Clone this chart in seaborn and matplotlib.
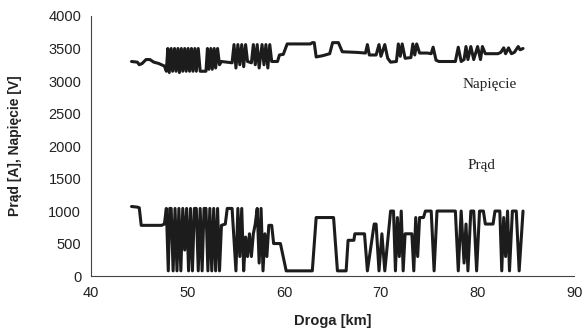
import matplotlib
matplotlib.use("Agg")
import matplotlib.pyplot as plt
import seaborn as sns

# Napięcie (voltage) trace
volt_km = [44.2, 44.8, 45.0, 45.3, 45.7, 46.1, 46.5, 47.0, 47.6,
           47.8, 47.95, 48.1, 48.3, 48.45, 48.65, 48.8, 49.0, 49.15, 49.35, 49.5, 49.7,
           49.85, 50.05, 50.2, 50.4, 50.55, 50.75, 50.9, 51.1, 51.3, 51.9, 52.05, 52.2,
           52.4, 52.55, 52.75, 52.9, 53.1, 53.3, 53.5, 54.6, 54.8, 55.0, 55.2, 55.4,
           55.6, 55.8, 56.0, 56.2, 56.6, 56.8, 57.0, 57.2, 57.4, 57.7, 57.9, 58.1, 58.3,
           58.5, 58.7, 59.3, 59.5, 59.9, 60.3, 62.7, 62.9, 63.1, 63.3, 64.0, 64.7, 65.0,
           65.6, 66.0, 67.5, 68.4, 68.6, 68.8, 69.5, 69.8, 70.0, 70.4, 70.7, 71.0, 71.6,
           71.8, 72.0, 72.2, 72.5, 73.1, 73.3, 73.5, 73.7, 74.0, 74.8, 75.2, 75.4, 75.7,
           76.0, 77.7, 78.0, 78.3, 78.6, 78.8, 79.0, 79.3, 79.6, 80.0, 80.3, 80.5, 80.8,
           82.1, 82.4, 82.7, 82.9, 83.2, 83.5, 83.8, 84.2, 84.4, 84.7]
volt_v = [3300, 3290, 3250, 3270, 3330, 3330, 3290, 3270, 3230,
          3150, 3500, 3130, 3500, 3150, 3500, 3150, 3500, 3130, 3500, 3150, 3500,
          3150, 3500, 3150, 3500, 3150, 3500, 3150, 3500, 3150, 3150, 3500, 3180,
          3500, 3180, 3500, 3200, 3500, 3250, 3300, 3280, 3560, 3200, 3560, 3250,
          3560, 3220, 3560, 3300, 3280, 3560, 3250, 3560, 3200, 3560, 3250, 3560, 3200,
          3560, 3300, 3300, 3400, 3410, 3570, 3570, 3590, 3590, 3370, 3390, 3420, 3590,
          3590, 3450, 3440, 3430, 3560, 3400, 3400, 3560, 3380, 3560, 3350, 3290, 3300,
          3570, 3380, 3570, 3350, 3360, 3570, 3400, 3570, 3430, 3430, 3420, 3520, 3320,
          3300, 3300, 3520, 3300, 3330, 3530, 3330, 3530, 3330, 3530, 3330, 3530, 3420,
          3420, 3440, 3510, 3420, 3510, 3420, 3440, 3530, 3480, 3500]

# Prąd (current) trace
curr_km = [44.2, 44.8, 45.0, 45.2, 47.3, 47.6,
           47.8, 48.0, 48.15, 48.3, 48.5, 48.7, 48.9, 49.1, 49.3, 49.5, 49.7, 49.9,
           50.1, 50.3, 50.5, 50.7, 50.9, 51.1, 51.3, 51.5, 51.7, 51.9, 52.1, 52.3,
           52.5, 52.7, 52.9, 53.1, 53.3, 53.5, 53.9, 54.1, 54.6, 55.0, 55.2, 55.4,
           55.6, 55.8, 56.0, 56.2, 56.4, 56.6, 56.8, 57.0, 57.2, 57.4, 57.6, 57.8,
           58.0, 58.2, 58.4, 58.7, 58.9, 59.6, 60.2, 62.9, 63.3, 65.1, 65.5, 66.4,
           66.6, 67.2, 67.3, 68.3, 68.6, 69.3, 69.5, 69.8, 70.1, 70.4, 71.0, 71.3,
           71.5, 71.7, 71.9, 72.1, 72.3, 72.5, 73.2, 73.4, 73.6, 73.8, 74.0, 74.4,
           74.6, 75.2, 75.5, 75.8, 77.7, 78.0, 78.3, 78.6, 78.8, 79.0, 79.3, 79.6,
           79.9, 80.2, 80.6, 80.8, 81.6, 81.8, 82.3, 82.5, 82.7, 82.9, 83.1, 83.3,
           83.6, 84.0, 84.3, 84.7]
curr_a = [1070, 1060, 1050, 780, 780, 800,
          1040, 80, 1040, 1040, 80, 1040, 80, 1040, 80, 1040, 400, 1040,
          80, 1040, 80, 1040, 1040, 80, 1040, 80, 1040, 1040, 80, 1040,
          80, 1040, 80, 1040, 80, 780, 800, 1040, 1040, 80, 1040, 300,
          1040, 80, 600, 300, 650, 300, 650, 800, 1040, 200, 1040, 80,
          650, 300, 780, 780, 500, 500, 80, 80, 900, 900, 80, 80,
          550, 550, 650, 650, 80, 800, 800, 80, 650, 80, 1000, 1000,
          80, 900, 300, 1000, 80, 650, 650, 80, 900, 300, 900, 900,
          1000, 1000, 80, 1000, 1000, 80, 1000, 200, 800, 80, 1000, 1000,
          80, 1000, 1000, 800, 800, 1000, 1000, 80, 900, 300, 1000, 80,
          1000, 1000, 80, 1000]

x_ticks = [40, 50, 60, 70, 80, 90]
y_ticks = [0, 500, 1000, 1500, 2000, 2500, 3000, 3500, 4000]

sns.set_style("white")
plt.rcParams["font.family"] = ["Liberation Sans", "DejaVu Sans"]

fig = plt.figure(figsize=(5.83, 3.33), dpi=100)
ax = fig.add_axes([0.156, 0.171, 0.829, 0.781])

line_col = "#1c1c1c"
sns.lineplot(x=volt_km, y=volt_v, sort=False, estimator=None,
             color=line_col, linewidth=2.2, ax=ax)
sns.lineplot(x=curr_km, y=curr_a, sort=False, estimator=None,
             color=line_col, linewidth=2.2, ax=ax)

ax.text(81.2, 2950, "Napięcie", family=["Liberation Serif", "DejaVu Serif"],
        fontsize=11, ha="center", va="center", color="#222222")
ax.text(80.4, 1700, "Prąd", family=["Liberation Serif", "DejaVu Serif"],
        fontsize=11, ha="center", va="center", color="#222222")

ax.set_xlim(40, 90)
ax.set_ylim(0, 4000)
ax.set_xticks(x_ticks)
ax.set_yticks(y_ticks)
ax.tick_params(axis="both", direction="out", length=3.5, width=0.8,
               labelsize=10.5, colors="#222222")
ax.set_xlabel("Droga [km]", fontsize=10.5, fontweight="bold", color="#222222", labelpad=10)
ax.set_ylabel("Prąd [A], Napięcie [V]", fontsize=10, fontweight="bold",
              color="#222222", labelpad=19)

for side in ["top", "right"]:
    ax.spines[side].set_visible(False)
for side in ["left", "bottom"]:
    ax.spines[side].set_color("#444444")
    ax.spines[side].set_linewidth(0.8)

fig.savefig("out.png", dpi=100)
plt.close(fig)
